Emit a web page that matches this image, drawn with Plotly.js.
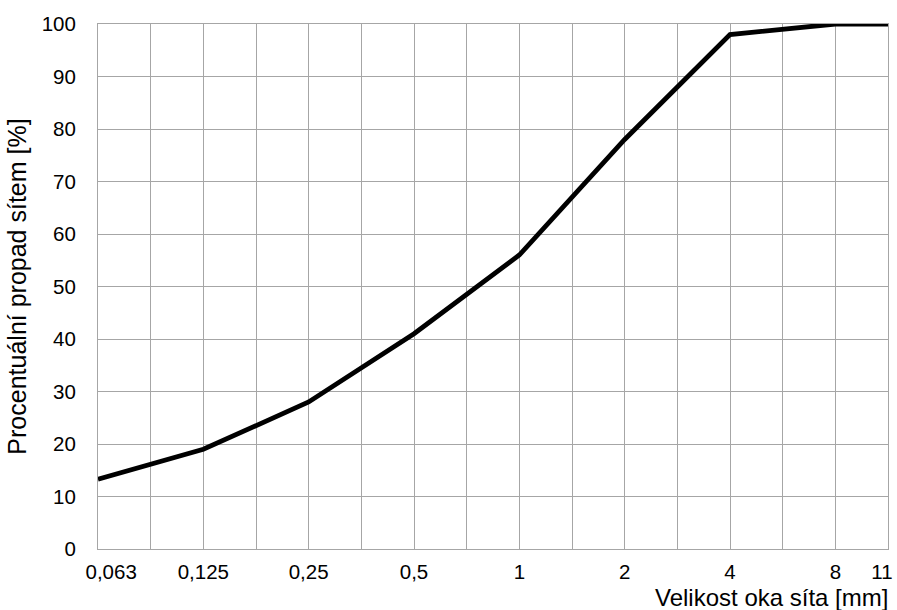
<!DOCTYPE html>
<html>
<head>
<meta charset="utf-8">
<script src="https://cdn.plot.ly/plotly-3.0.1.min.js"></script>
<style>html,body{margin:0;padding:0;background:#fff;}#chart{width:897px;height:610px;}</style>
</head>
<body>
<div id="chart"></div>
<script>
// Category slots on the x axis (blank slots are unlabeled half-steps)
const axisCategories = ['0,063','','0,125','','0,25','','0,5','','1','','2','','4','','8','11'];
// Sieve sizes with measured passing
const sieveLabels = ['0,063','0,125','0,25','0,5','1','2','4','8','11'];
const passing = [13.3, 19, 28, 41, 56, 78, 98, 100, 100];
const yTicks = [0,10,20,30,40,50,60,70,80,90,100];

const xPos = sieveLabels.map(l => axisCategories.indexOf(l));
// edge labels are pulled inward like the original so they stay inside the frame
const labelPos = xPos.map((p, i) => i === 0 ? p + 0.25 : (i === xPos.length - 1 ? p - 0.115 : p));

const fam = 'Liberation Sans, Arial, sans-serif';
const tickFont = {family: fam, size: 20.5, color: '#000'};
const gridColor = '#a6a6a6';

Plotly.newPlot('chart', [{
  x: xPos,
  y: passing,
  mode: 'lines',
  line: {color: '#000', width: 4.8},
  hoverinfo: 'skip'
}], {
  width: 897, height: 610,
  margin: {l: 98, r: 9, t: 24, b: 61},
  paper_bgcolor: '#fff', plot_bgcolor: '#fff',
  showlegend: false,
  font: tickFont,
  xaxis: {
    range: [0, axisCategories.length - 1],
    tickmode: 'array', tickvals: labelPos, ticktext: sieveLabels,
    showgrid: false,
    minor: {tickmode: 'linear', tick0: 0, dtick: 1, showgrid: true, gridcolor: gridColor, gridwidth: 1, ticks: ''},
    showline: true, linecolor: gridColor, linewidth: 1, mirror: true,
    zeroline: false, ticks: '', ticklabelstandoff: 4,
    tickfont: tickFont, fixedrange: true
  },
  yaxis: {
    range: [0, 100],
    tickmode: 'array', tickvals: yTicks, ticktext: yTicks.map(String),
    showgrid: true, gridcolor: gridColor, gridwidth: 1,
    showline: true, linecolor: gridColor, linewidth: 1, mirror: true,
    zeroline: false, ticks: '', ticklabelstandoff: 17,
    tickfont: tickFont,
    title: {text: 'Procentuální propad sítem [%]', font: {family: fam, size: 25, color: '#000'}, standoff: 7},
    fixedrange: true
  },
  annotations: [{
    text: 'Velikost oka síta [mm]', xref: 'paper', yref: 'paper',
    x: 1, y: 0, xanchor: 'right', yanchor: 'top', yshift: -34, xshift: 1,
    borderpad: 0,
    showarrow: false, font: {family: fam, size: 24, color: '#000'}
  }]
}, {displayModeBar: false, staticPlot: true});
</script>
</body>
</html>
